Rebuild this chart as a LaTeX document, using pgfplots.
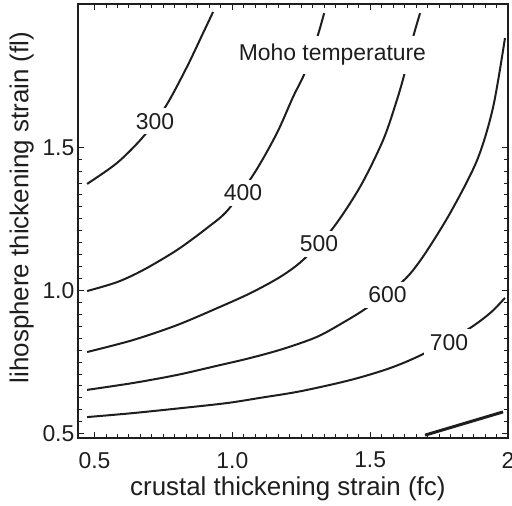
\documentclass[border=0pt]{standalone}
\usepackage{fontspec}
\setmainfont{Liberation Sans}
\usepackage{pgfplots}
\pgfplotsset{compat=1.18}
\definecolor{ink}{HTML}{1E1E1E}
\begin{document}
\fontsize{11.5}{13.8}\selectfont
\begin{tikzpicture}
\useasboundingbox (-39bp,-34bp) rectangle (217bp,219bp);
\begin{axis}[
  at={(0,0)}, anchor=south west,
  scale only axis, width=215bp, height=217bp,
  xmin=0.44, xmax=2.0, ymin=0.485, ymax=2.0,
  xtick={0.5,1,1.5,2}, xticklabels={0.5,1.0,1.5,2},
  ytick={0.5,1,1.5}, yticklabels={0.5,1.0,1.5},
  minor x tick num=11, minor y tick num=11,
  tick align=inside,
  major tick length=3bp, minor tick length=2bp,
  tick style={line width=0.5bp, color=ink},
  axis line style={line width=0.8bp, color=ink},
  /pgf/number format/assume math mode=true,
  xticklabel style={yshift=-3.0bp, font=\fontsize{11.5}{13.8}\selectfont, text=ink},
  yticklabel style={xshift=2.2bp, font=\fontsize{11.5}{13.8}\selectfont, text=ink},
  xlabel={crustal thickening strain (fc)},
  ylabel={lihosphere thickening strain (fl)},
  every axis x label/.style={at={(rel axis cs:0.488,-0.1175)}, anchor=center, font=\fontsize{13}{15.6}\selectfont, text=ink},
  every axis y label/.style={at={(rel axis cs:-0.131,0.531)}, rotate=90, anchor=center, font=\fontsize{13}{15.6}\selectfont, text=ink},
  clip=false,
]
% 300
\addplot[ink, line width=1bp, smooth, tension=0.5] coordinates {
(0.473,1.372) (0.5815,1.445) (0.676,1.536) (0.759,1.644) (0.835,1.780) (0.894,1.899) (0.930,1.972)};
% 400
\addplot[ink, line width=1bp, smooth, tension=0.5] coordinates {
(0.473,0.998) (0.5815,1.029) (0.676,1.071) (0.799,1.141) (0.908,1.218) (0.984,1.281) (1.082,1.413) (1.162,1.550) (1.220,1.675) (1.264,1.762) (1.307,1.881) (1.333,1.968)};
% 500
\addplot[ink, line width=1bp, smooth, tension=0.5] coordinates {
(0.473,0.785) (0.640,0.827) (0.799,0.879) (0.944,0.938) (1.064,0.990) (1.173,1.047) (1.256,1.106) (1.362,1.214) (1.463,1.361) (1.547,1.525) (1.597,1.665) (1.626,1.762) (1.656,1.885) (1.681,1.968)};
% 600
\addplot[ink, line width=1bp, smooth, tension=0.5] coordinates {
(0.473,0.653) (0.640,0.677) (0.799,0.705) (0.944,0.737) (1.064,0.764) (1.184,0.796) (1.307,0.838) (1.402,0.888) (1.489,0.940) (1.616,1.030) (1.688,1.113) (1.790,1.270) (1.888,1.455) (1.946,1.640) (1.989,1.881)};
% 700
\addplot[ink, line width=1bp, smooth, tension=0.5] coordinates {
(0.473,0.558) (0.640,0.572) (0.821,0.590) (0.981,0.607) (1.100,0.625) (1.246,0.648) (1.427,0.687) (1.572,0.729) (1.692,0.778) (1.851,0.862) (1.935,0.921) (1.989,0.974)};
% 800
\addplot[ink, line width=1.5bp] coordinates {(1.699,0.495) (1.982,0.576)};
% labels
\node[fill=white, inner xsep=3bp, inner ysep=2.5bp, text=ink] at (axis cs:0.719,1.591) {300};
\node[fill=white, inner xsep=3bp, inner ysep=2.5bp, text=ink] at (axis cs:1.039,1.340) {400};
\node[fill=white, inner xsep=3bp, inner ysep=2.5bp, text=ink] at (axis cs:1.314,1.162) {500};
\node[fill=white, inner xsep=3bp, inner ysep=2.5bp, text=ink] at (axis cs:1.563,0.984) {600};
\node[fill=white, inner xsep=3bp, inner ysep=2.5bp, text=ink] at (axis cs:1.786,0.818) {700};
\node[fill=white, inner xsep=2bp, inner ysep=4bp, text=ink] at (axis cs:1.363,1.822) {Moho temperature};
\end{axis}
\end{tikzpicture}
\end{document}
